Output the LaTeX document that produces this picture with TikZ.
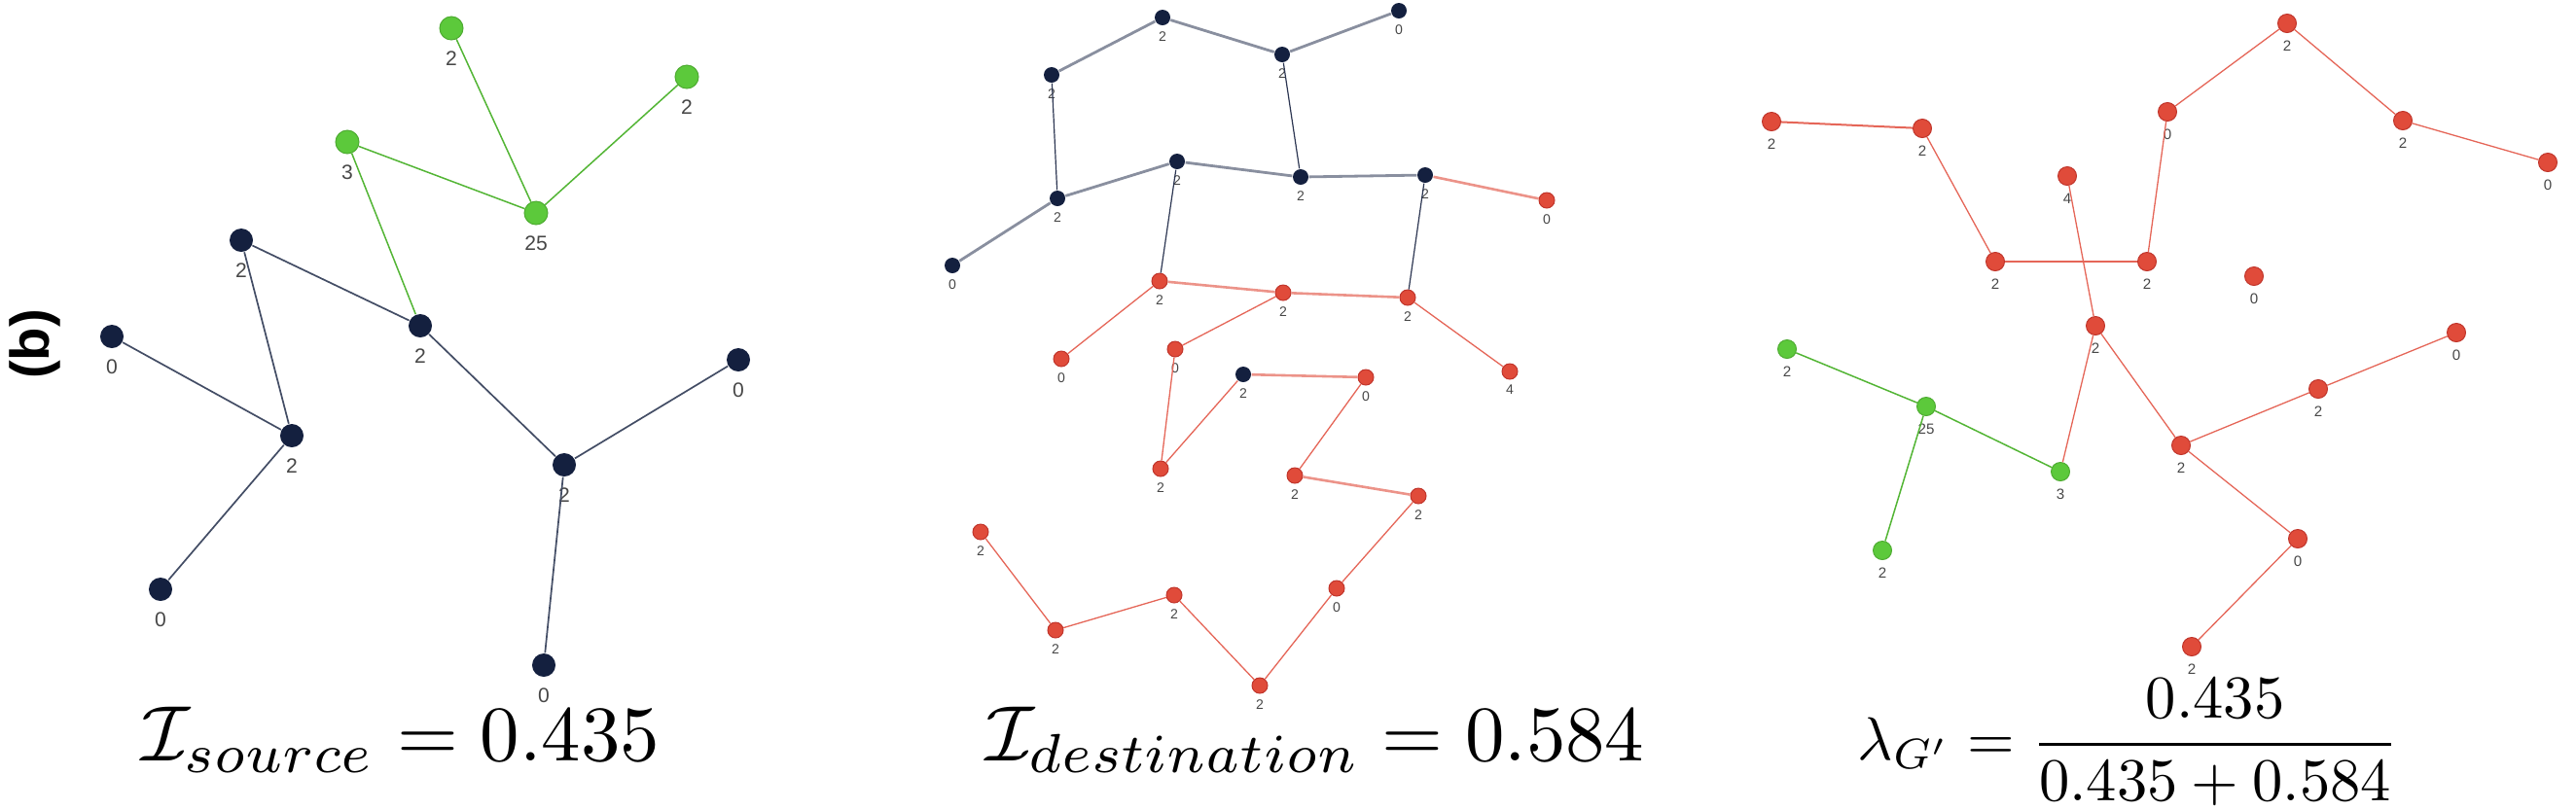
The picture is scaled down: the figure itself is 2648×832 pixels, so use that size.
\documentclass[tikz,border=0pt]{standalone}
\usepackage{amsmath}
\usepackage{fontspec}
\setsansfont{Liberation Sans}
\usepackage{tikz}

\definecolor{navyfill}{HTML}{14203F}
\definecolor{greenfill}{HTML}{5CC93B}
\definecolor{redfill}{HTML}{E04B3A}
\definecolor{redborder}{HTML}{C0352B}
\definecolor{lblgray}{HTML}{474747}

\begin{document}
\begin{tikzpicture}[x=0.01cm, y=-0.01cm]
        \tikzstyle{srclbl}=[font=\sffamily\fontsize{6}{7}\selectfont, text=lblgray, inner sep=0pt, yshift=-0.105cm]
        \tikzstyle{dstlbl}=[font=\sffamily\fontsize{4}{5}\selectfont, text=lblgray, inner sep=0pt, yshift=-0.05cm]
        \tikzstyle{mixlbl}=[font=\sffamily\fontsize{4.3}{5}\selectfont, text=lblgray, inner sep=0pt, yshift=-0.07cm]
        \tikzset{
                srcv/.style={circle, inner sep=0pt, minimum size=0.24cm, label={[srclbl]below:#1}},
                dstv/.style={circle, inner sep=0pt, minimum size=0.16cm, label={[dstlbl]below:#1}},
                mixv/.style={circle, inner sep=0pt, minimum size=0.19cm, label={[mixlbl]below:#1}}
        }
        \tikzstyle{navy}=[fill=navyfill]
        \tikzstyle{green}=[fill=greenfill, draw=greenfill!85!black, line width=0.01cm]
        \tikzstyle{red}=[fill=redfill, draw=redborder, line width=0.01cm]
        \tikzstyle{navyedge}=[draw=navyfill!80!white, line width=0.017cm]
        \tikzstyle{greenedge}=[draw=greenfill!90!black, line width=0.015cm]
        \tikzstyle{darkedge}=[draw=navyfill!90!white, line width=0.012cm]
        \tikzstyle{greyedge}=[draw=navyfill!50!white, line width=0.028cm]
        \tikzstyle{rededge}=[draw=redfill!85!white, line width=0.013cm]
        \tikzstyle{pinkedge}=[draw=redfill!60!white, line width=0.026cm]
        \tikzstyle{formula}=[inner sep=0pt, anchor=base west]

        \useasboundingbox (0,0) rectangle (2648,832);

        \node[rotate=90, font=\sffamily\bfseries\fontsize{16}{19}\selectfont] (tag) at (36,354) {(b)};

        % source
        \node[srcv=2, green] (s1) at (464,29) {};
        \node[srcv=2, green] (s2) at (706,79) {};
        \node[srcv=3, green] (s3) at (357,146) {};
        \node[srcv=25, green] (s4) at (551,219) {};
        \node[srcv=2, navy] (s5) at (248,247) {};
        \node[srcv=2, navy] (s6) at (432,335) {};
        \node[srcv=0, navy] (s7) at (115,346) {};
        \node[srcv=2, navy] (s8) at (300,448) {};
        \node[srcv=0, navy] (s9) at (759,370) {};
        \node[srcv=2, navy] (s10) at (580,478) {};
        \node[srcv=0, navy] (s11) at (165,606) {};
        \node[srcv=0, navy] (s12) at (559,684) {};

        \draw[greenedge] (s1) -- (s4);
        \draw[greenedge] (s2) -- (s4);
        \draw[greenedge] (s3) -- (s4);
        \draw[greenedge] (s3) -- (s6);
        \draw[navyedge] (s5) -- (s6);
        \draw[navyedge] (s5) -- (s8);
        \draw[navyedge] (s7) -- (s8);
        \draw[navyedge] (s8) -- (s11);
        \draw[navyedge] (s6) -- (s10);
        \draw[navyedge] (s10) -- (s9);
        \draw[navyedge] (s10) -- (s12);

        % destination
        \node[dstv=2, navy] (d1) at (1195,18) {};
        \node[dstv=0, navy] (d2) at (1438,11) {};
        \node[dstv=2, navy] (d3) at (1081,77) {};
        \node[dstv=2, navy] (d4) at (1318,56) {};
        \node[dstv=2, navy] (d5) at (1210,166) {};
        \node[dstv=2, navy] (d6) at (1337,182) {};
        \node[dstv=2, navy] (d7) at (1465,180) {};
        \node[dstv=2, navy] (d8) at (1087,204) {};
        \node[dstv=0, navy] (d9) at (979,273) {};
        \node[dstv=2, navy] (d10) at (1278,385) {};
        \node[dstv=0, red] (d11) at (1590,206) {};
        \node[dstv=2, red] (d12) at (1192,289) {};
        \node[dstv=2, red] (d13) at (1319,301) {};
        \node[dstv=2, red] (d14) at (1447,306) {};
        \node[dstv=0, red] (d15) at (1091,369) {};
        \node[dstv=0, red] (d16) at (1208,359) {};
        \node[dstv=4, red] (d17) at (1552,382) {};
        \node[dstv=0, red] (d18) at (1404,388) {};
        \node[dstv=2, red] (d19) at (1193,482) {};
        \node[dstv=2, red] (d20) at (1331,489) {};
        \node[dstv=2, red] (d21) at (1458,510) {};
        \node[dstv=2, red] (d22) at (1008,547) {};
        \node[dstv=2, red] (d23) at (1207,612) {};
        \node[dstv=0, red] (d24) at (1374,605) {};
        \node[dstv=2, red] (d25) at (1085,648) {};
        \node[dstv=2, red] (d26) at (1295,705) {};

        \draw[greyedge] (d3) -- (d1);
        \draw[greyedge] (d1) -- (d4);
        \draw[greyedge] (d4) -- (d2);
        \draw[greyedge] (d8) -- (d5);
        \draw[greyedge] (d5) -- (d6);
        \draw[greyedge] (d6) -- (d7);
        \draw[greyedge] (d8) -- (d9);
        \draw[darkedge] (d3) -- (d8);
        \draw[darkedge] (d4) -- (d6);
        \draw[darkedge] (d5) -- (d12);
        \draw[darkedge] (d7) -- (d14);
        \draw[pinkedge] (d7) -- (d11);
        \draw[pinkedge] (d12) -- (d13);
        \draw[pinkedge] (d13) -- (d14);
        \draw[pinkedge] (d10) -- (d18);
        \draw[pinkedge] (d20) -- (d21);
        \draw[rededge] (d12) -- (d15);
        \draw[rededge] (d13) -- (d16);
        \draw[rededge] (d14) -- (d17);
        \draw[rededge] (d16) -- (d19);
        \draw[rededge] (d10) -- (d19);
        \draw[rededge] (d18) -- (d20);
        \draw[rededge] (d21) -- (d24);
        \draw[rededge] (d24) -- (d26);
        \draw[rededge] (d26) -- (d23);
        \draw[rededge] (d23) -- (d25);
        \draw[rededge] (d25) -- (d22);

        % merged graph
        \node[mixv=2, red] (m1) at (2351,24) {};
        \node[mixv=2, red] (m2) at (1821,125) {};
        \node[mixv=2, red] (m3) at (1976,132) {};
        \node[mixv=0, red] (m4) at (2228,115) {};
        \node[mixv=2, red] (m5) at (2470,124) {};
        \node[mixv=0, red] (m6) at (2619,167) {};
        \node[mixv=4, red] (m7) at (2125,181) {};
        \node[mixv=2, red] (m8) at (2051,269) {};
        \node[mixv=2, red] (m9) at (2207,269) {};
        \node[mixv=0, red] (m10) at (2317,284) {};
        \node[mixv=2, red] (m11) at (2154,335) {};
        \node[mixv=0, red] (m12) at (2525,342) {};
        \node[mixv=2, red] (m13) at (2383,400) {};
        \node[mixv=2, red] (m14) at (2242,458) {};
        \node[mixv=0, red] (m15) at (2362,554) {};
        \node[mixv=2, red] (m16) at (2253,665) {};
        \node[mixv=2, green] (m17) at (1837,359) {};
        \node[mixv=25, green] (m18) at (1980,418) {};
        \node[mixv=3, green] (m19) at (2118,485) {};
        \node[mixv=2, green] (m20) at (1935,566) {};

        \draw[rededge, line width=0.02cm] (m2) -- (m3);
        \draw[rededge] (m3) -- (m8);
        \draw[rededge, line width=0.02cm] (m8) -- (m9);
        \draw[rededge] (m9) -- (m4);
        \draw[rededge] (m4) -- (m1);
        \draw[rededge] (m1) -- (m5);
        \draw[rededge] (m5) -- (m6);
        \draw[rededge] (m7) -- (m11);
        \draw[rededge] (m11) -- (m19);
        \draw[rededge] (m11) -- (m14);
        \draw[rededge] (m14) -- (m13);
        \draw[rededge] (m13) -- (m12);
        \draw[rededge] (m14) -- (m15);
        \draw[rededge] (m15) -- (m16);
        \draw[greenedge] (m17) -- (m18);
        \draw[greenedge] (m18) -- (m19);
        \draw[greenedge] (m18) -- (m20);

        % formulas
        \node[formula] (isrc) at (145,782) {\scalebox{2.3}{$\mathcal{I}_{source} = 0.435$}};
        \node[formula] (idst) at (1013,782) {\scalebox{2.3}{$\mathcal{I}_{destination} = 0.584$}};
        \node[formula] (lam) at (1909,781) {\scalebox{1.78}{$\lambda_{G'} = \dfrac{0.435}{0.435+0.584}$}};
\end{tikzpicture}
\end{document}
